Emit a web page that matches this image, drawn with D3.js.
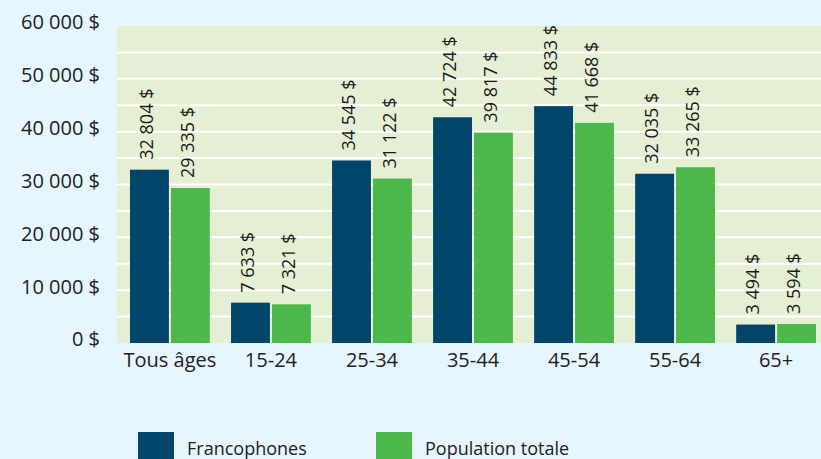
<!DOCTYPE html>
<html>
<head>
<meta charset="utf-8">
<script src="https://cdn.jsdelivr.net/npm/d3@7"></script>
<style>
  html, body { margin: 0; padding: 0; background: #e5f6fe; }
  svg { display: block; font-family: "Open Sans", sans-serif; }
</style>
</head>
<body>
<svg id="chart" width="821" height="459"></svg>
<script>
const categories = ['Tous âges', '15-24', '25-34', '35-44', '45-54', '55-64', '65+']
const francophones = [32804, 7633, 34545, 42724, 44833, 32035, 3494]
const populationTotale = [29335, 7321, 31122, 39817, 41668, 33265, 3594]
const seriesNames = ['Francophones', 'Population totale']
const yTicks = [0, 10000, 20000, 30000, 40000, 50000, 60000]
const gridValues = [5000, 10000, 15000, 20000, 25000, 30000, 35000, 40000, 45000, 50000, 55000]

const COLORS = ['#01456a', '#4cb84b']
const PLOT_LEFT = 117
const PLOT_TOP = 26
const PLOT_BOTTOM = 343
const PLOT_RIGHT = 821

const fmt = v => d3.format(',')(v).replace(/,/g, ' ') + ' $'

const svg = d3.select('#chart')

const x = d3.scaleBand()
  .domain(categories)
  .range([130, 130 + 98 * 7])
  .paddingInner(0.21)
  .paddingOuter(0)
  .align(0)

const x1 = d3.scaleBand()
  .domain(seriesNames)
  .range([0, x.bandwidth()])
  .paddingInner(0.05)

const y = d3.scaleLinear()
  .domain([0, 60000])
  .range([PLOT_BOTTOM, PLOT_TOP])

// plot background
svg.append('rect')
  .attr('x', PLOT_LEFT)
  .attr('y', PLOT_TOP)
  .attr('width', PLOT_RIGHT - PLOT_LEFT)
  .attr('height', PLOT_BOTTOM - PLOT_TOP)
  .attr('fill', '#e5efd4')

// grid lines
svg.append('g')
  .selectAll('line')
  .data(gridValues)
  .enter().append('line')
  .attr('x1', PLOT_LEFT)
  .attr('x2', PLOT_RIGHT)
  .attr('y1', d => y(d))
  .attr('y2', d => y(d))
  .attr('stroke', '#ffffff')
  .attr('stroke-width', 2)

// y tick labels
svg.append('g')
  .selectAll('text')
  .data(yTicks)
  .enter().append('text')
  .text(d => fmt(d))
  .attr('x', 100)
  .attr('y', d => y(d) - 2)
  .attr('text-anchor', 'end')
  .attr('dominant-baseline', 'middle')
  .attr('font-size', 20)
  .attr('fill', '#222')

// bars
const rows = categories.map((c, i) => ({
  cat: c,
  vals: [francophones[i], populationTotale[i]]
}))

const groups = svg.append('g')
  .selectAll('g')
  .data(rows)
  .enter().append('g')
  .attr('transform', d => 'translate(' + x(d.cat) + ',0)')

groups.selectAll('rect')
  .data(d => d.vals.map((v, k) => ({ v: v, k: k })))
  .enter().append('rect')
  .attr('x', d => x1(seriesNames[d.k]))
  .attr('width', x1.bandwidth())
  .attr('y', d => y(d.v))
  .attr('height', d => y(0) - y(d.v))
  .attr('fill', d => COLORS[d.k])

groups.selectAll('text')
  .data(d => d.vals.map((v, k) => ({ v: v, k: k })))
  .enter().append('text')
  .text(d => fmt(d.v))
  .attr('transform', d => {
    var cx = x1(seriesNames[d.k]) + x1.bandwidth() / 2 - 1
    var cy = y(d.v) - 10
    return 'translate(' + cx + ',' + cy + ') rotate(-90)'
  })
  .attr('dominant-baseline', 'middle')
  .attr('font-size', 18)
  .attr('fill', '#1a1a1a')

// category labels
svg.append('g')
  .selectAll('text')
  .data(categories)
  .enter().append('text')
  .text(d => d)
  .attr('x', d => x(d) + x.bandwidth() / 2)
  .attr('y', 362)
  .attr('text-anchor', 'middle')
  .attr('dominant-baseline', 'middle')
  .attr('font-size', 20)
  .attr('fill', '#222')

// legend
const legendX = [138, 376]
const legend = svg.append('g')
  .selectAll('g')
  .data(seriesNames)
  .enter().append('g')
  .attr('transform', (d, i) => 'translate(' + legendX[i] + ',432)')

legend.append('rect')
  .attr('width', 36)
  .attr('height', 30)
  .attr('fill', (d, i) => COLORS[i])

legend.append('text')
  .text(d => d)
  .attr('x', 49)
  .attr('y', 23)
  .attr('font-size', 18)
  .attr('fill', '#222')
</script>
</body>
</html>
